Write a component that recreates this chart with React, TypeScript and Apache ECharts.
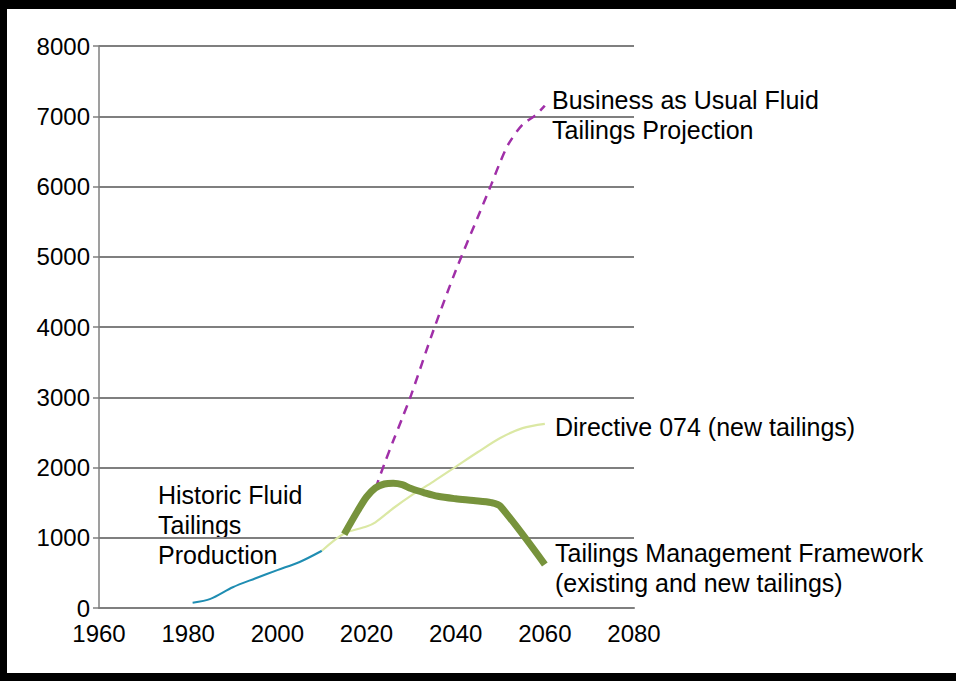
import React, { useEffect, useRef } from "react";
import * as echarts from "echarts";

const yearTicks = [1960, 1980, 2000, 2020, 2040, 2060, 2080];
const volumeTicks = [0, 1000, 2000, 3000, 4000, 5000, 6000, 7000, 8000];

const historic: [number, number][] = [
  [1981, 75], [1985, 130], [1990, 295], [1995, 420],
  [2000, 540], [2005, 655], [2010, 815],
];
const directive074: [number, number][] = [
  [2010, 815], [2015, 1060], [2020, 1160], [2022, 1220], [2026, 1420], [2030, 1600],
  [2035, 1800], [2040, 2010], [2045, 2220], [2050, 2420], [2055, 2560], [2060, 2620],
];
const tmf: [number, number][] = [
  [2015, 1050], [2018, 1380], [2020, 1580], [2022, 1710], [2024, 1765], [2026, 1775],
  [2028, 1755], [2030, 1700], [2033, 1640], [2036, 1590], [2040, 1555], [2044, 1530],
  [2048, 1500], [2050, 1450], [2060, 620],
];
const businessAsUsual: [number, number][] = [
  [2022, 1700], [2024, 2050], [2026, 2380], [2028, 2700], [2030, 3030], [2035, 3950],
  [2040, 4800], [2045, 5570], [2048, 6030], [2050, 6350], [2052, 6620], [2055, 6880],
  [2058, 7020], [2060, 7150],
];

const FONT = "'Liberation Sans', Arial, sans-serif";

export default function App() {
  const ref = useRef<HTMLDivElement>(null);
  useEffect(() => {
    if (!ref.current) return;
    const chart = echarts.init(ref.current, null, { renderer: "svg" });
    const annStyle = { fill: "#000", font: `25px ${FONT}`, lineHeight: 30, verticalAlign: "top" } as any;
    chart.setOption({
      animation: false,
      backgroundColor: "#fff",
      grid: { left: 99, right: 322, top: 46, bottom: 73 },
      xAxis: {
        type: "value",
        min: yearTicks[0],
        max: yearTicks[yearTicks.length - 1],
        interval: 20,
        axisLine: { show: true, lineStyle: { color: "#7f7f7f", width: 2 } },
        axisTick: { show: false },
        splitLine: { show: false },
        axisLabel: { color: "#000", fontSize: 24, fontFamily: FONT, margin: 13, formatter: (v: number) => String(v) },
      },
      yAxis: {
        type: "value",
        min: volumeTicks[0],
        max: volumeTicks[volumeTicks.length - 1],
        interval: 1000,
        axisLine: { show: true, lineStyle: { color: "#7f7f7f", width: 1.5 } },
        axisTick: { show: true, length: 6, lineStyle: { color: "#7f7f7f", width: 1.5 } },
        splitLine: { show: true, lineStyle: { color: "#7f7f7f", width: 1.8 } },
        axisLabel: { color: "#000", fontSize: 24, fontFamily: FONT, margin: 9, formatter: (v: number) => String(v) },
      },
      series: [
        {
          type: "line", data: historic, smooth: 0.3, symbol: "none",
          lineStyle: { color: "#1f8db2", width: 2 },
        },
        {
          type: "line", data: directive074, smooth: 0.3, symbol: "none",
          lineStyle: { color: "#dbe8a4", width: 2.2 },
        },
        {
          type: "line", data: businessAsUsual, smooth: 0.3, symbol: "none",
          lineStyle: { color: "#a02fa8", width: 2.5, type: [9, 7] },
        },
        {
          type: "line", data: tmf, smooth: 0.3, symbol: "none",
          lineStyle: { color: "#77933c", width: 7, cap: "butt", join: "round" },
        },
      ],
      graphic: [
        { type: "rect", shape: { x: 0, y: 0, width: 956, height: 9 }, style: { fill: "#000" } },
        { type: "rect", shape: { x: 0, y: 0, width: 7, height: 681 }, style: { fill: "#000" } },
        { type: "rect", shape: { x: 0, y: 673, width: 956, height: 8 }, style: { fill: "#000" } },
        { type: "text", x: 552, y: 85, style: { ...annStyle, text: "Business as Usual Fluid\nTailings Projection" } },
        { type: "text", x: 555, y: 412, style: { ...annStyle, text: "Directive 074 (new tailings)" } },
        { type: "text", x: 158, y: 480, style: { ...annStyle, text: "Historic Fluid\nTailings\nProduction" } },
        { type: "text", x: 555, y: 538, style: { ...annStyle, text: "Tailings Management Framework\n(existing and new tailings)" } },
      ],
    });
    return () => chart.dispose();
  }, []);
  return (
    <div
      ref={ref}
      style={{ position: "absolute", left: 0, top: 0, width: 956, height: 681, background: "#fff" }}
    />
  );
}
